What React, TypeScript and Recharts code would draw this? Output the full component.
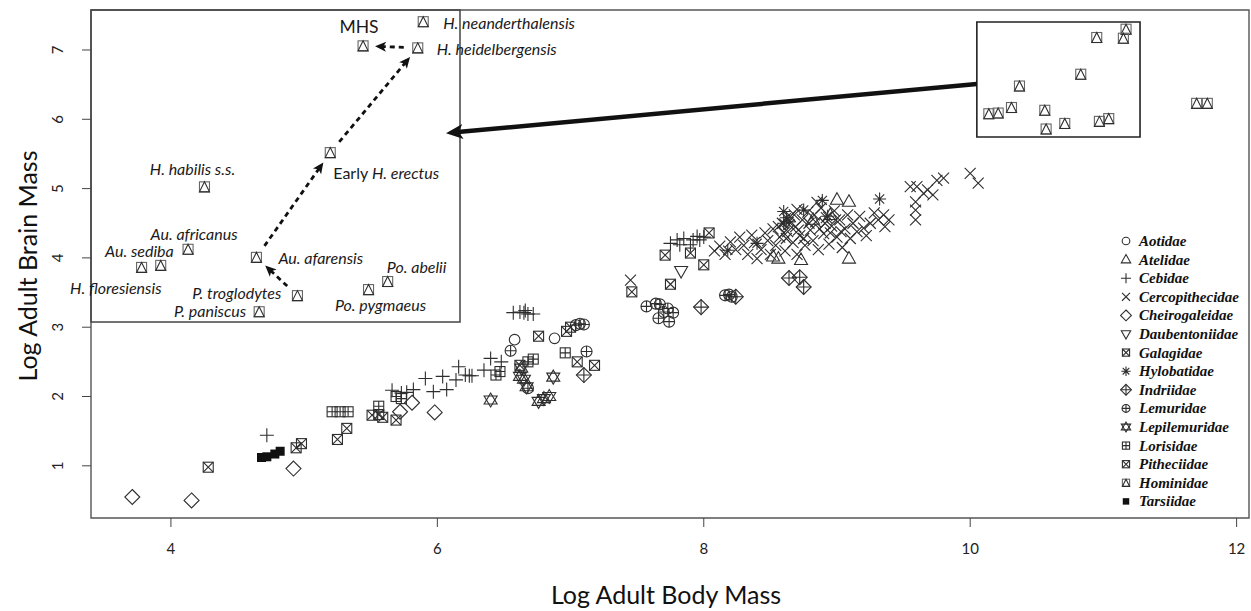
import React from 'react';
import {
  ScatterChart,
  Scatter,
  XAxis,
  YAxis,
  ReferenceArea,
  ReferenceLine,
  Legend,
} from 'recharts';

// log adult body mass (x) vs log adult brain mass (y), per family
const aotidae: [number, number][] = [[6.58, 2.82], [6.88, 2.84]];
const atelidae: [number, number][] = [
  [8.52, 4.02], [8.56, 3.99], [8.73, 3.97], [9.09, 3.99], [9.0, 4.84], [9.09, 4.81], [8.95, 4.62], [8.82, 4.55],
];
const cebidae: [number, number][] = [
  [4.72, 1.44], [5.66, 2.09], [5.73, 2.05], [5.77, 2.06], [5.82, 2.1], [5.91, 2.26], [5.97, 2.07], [6.04, 2.29],
  [6.07, 2.1], [6.14, 2.24], [6.16, 2.43], [6.21, 2.31], [6.24, 2.3], [6.26, 2.3], [6.35, 2.38], [6.4, 2.55],
  [6.48, 2.5], [6.57, 3.21], [6.62, 3.22], [6.65, 3.21], [6.68, 3.19], [6.72, 3.19], [6.66, 3.24], [7.75, 4.21],
  [7.8, 4.26], [7.85, 4.28], [7.9, 4.19], [7.92, 4.26], [7.95, 4.31], [7.97, 4.26], [7.82, 4.19], [8.0, 4.3],
];
const cercopithecidae: [number, number][] = [
  [7.45, 3.68],
  [8.08, 4.1], [8.12, 4.17], [8.16, 4.05], [8.2, 4.23], [8.24, 4.12], [8.27, 4.3], [8.3, 4.18], [8.33, 4.05],
  [8.36, 4.33], [8.38, 4.22], [8.4, 3.99], [8.43, 4.12], [8.46, 4.36], [8.48, 4.25], [8.5, 4.05], [8.52, 4.42],
  [8.54, 4.18], [8.57, 4.3], [8.59, 4.5], [8.61, 4.1], [8.63, 4.38], [8.65, 4.6], [8.67, 4.22], [8.69, 4.45],
  [8.7, 4.05], [8.72, 4.32], [8.74, 4.55], [8.76, 4.18], [8.78, 4.66], [8.8, 4.4], [8.82, 4.25], [8.84, 4.52],
  [8.86, 4.12], [8.88, 4.72], [8.9, 4.35], [8.92, 4.58], [8.94, 4.2], [8.96, 4.46], [8.98, 4.68], [9.0, 4.3],
  [9.02, 4.55], [9.04, 4.15], [9.06, 4.42], [9.08, 4.62], [9.1, 4.28], [9.12, 4.5], [9.15, 4.38], [9.17, 4.6],
  [9.2, 4.43], [9.22, 4.32], [9.25, 4.5], [9.28, 4.65], [9.31, 4.55], [9.35, 4.62], [9.36, 4.45], [9.39, 4.55],
  [8.56, 4.45], [8.6, 4.36], [8.64, 4.48], [8.68, 4.62], [8.71, 4.4], [8.75, 4.28], [8.79, 4.5], [8.83, 4.62],
  [8.87, 4.42], [8.91, 4.5], [8.95, 4.36], [8.99, 4.55], [9.03, 4.38], [8.62, 4.28], [8.7, 4.7], [8.85, 4.8],
  [9.55, 5.03], [9.6, 5.03], [9.65, 4.93], [9.72, 4.91], [9.59, 4.81], [9.59, 4.69], [9.59, 4.55], [9.75, 5.12],
  [9.8, 5.15], [10.0, 5.22], [10.06, 5.08], [9.68, 4.98],
];
const cheirogaleidae: [number, number][] = [
  [3.71, 0.55], [4.155, 0.5], [4.92, 0.96], [5.72, 1.78], [5.81, 1.91], [5.98, 1.77],
];
const daubentoniidae: [number, number][] = [[7.83, 3.81]];
const galagidae: [number, number][] = [
  [4.28, 0.98], [4.94, 1.26], [4.98, 1.32], [5.25, 1.38], [5.32, 1.54], [5.51, 1.73], [5.56, 1.74], [5.59, 1.7],
  [5.69, 1.66], [6.62, 2.45], [6.76, 2.87], [6.97, 2.94], [7.0, 3.0], [7.05, 2.5], [7.18, 2.45],
];
const hylobatidae: [number, number][] = [
  [8.18, 4.11], [8.4, 4.21], [8.6, 4.67], [8.62, 4.58], [8.64, 4.52], [8.75, 4.69], [8.89, 4.83], [8.93, 4.6],
  [9.32, 4.85], [8.6, 4.5],
];
const indriidae: [number, number][] = [
  [7.1, 2.31], [7.98, 3.29], [8.24, 3.44], [8.64, 3.71], [8.72, 3.72], [8.75, 3.58],
];
const lemuridae: [number, number][] = [
  [6.55, 2.66], [6.68, 2.12], [7.04, 3.03], [7.07, 3.05], [7.1, 3.04], [7.12, 2.65], [7.57, 3.3], [7.64, 3.34],
  [7.67, 3.33], [7.73, 3.27], [7.77, 3.21], [7.66, 3.13], [7.74, 3.08], [7.7, 3.22], [8.16, 3.46], [8.19, 3.47],
  [8.21, 3.44],
];
const lepilemuridae: [number, number][] = [
  [6.4, 1.95], [6.62, 2.29], [6.63, 2.41], [6.67, 2.14], [6.76, 1.93], [6.84, 2.0], [6.87, 2.28], [6.8, 1.97],
  [6.65, 2.25],
];
const lorisidae: [number, number][] = [
  [5.21, 1.78], [5.27, 1.78], [5.33, 1.78], [5.56, 1.86], [5.69, 2.0], [5.73, 1.97], [6.44, 2.31], [6.47, 2.36],
  [6.68, 2.5], [6.72, 2.54], [6.96, 2.63],
];
const pitheciidae: [number, number][] = [
  [7.46, 3.51], [7.71, 4.04], [7.75, 3.62], [7.9, 4.07], [8.0, 3.9], [8.04, 4.36],
];
const tarsiidae: [number, number][] = [[4.68, 1.12], [4.72, 1.13], [4.78, 1.17], [4.82, 1.21]];

// hominids: name, log body mass, log brain mass
const hominidae: [string, number, number][] = [
  ['H. neanderthalensis', 11.17, 7.3],
  ['H. heidelbergensis', 11.15, 7.17],
  ['MHS', 10.95, 7.18],
  ['Early H. erectus', 10.83, 6.65],
  ['H. habilis s.s.', 10.37, 6.48],
  ['Au. africanus', 10.31, 6.17],
  ['Au. sediba', 10.21, 6.09],
  ['H. floresiensis', 10.14, 6.08],
  ['Au. afarensis', 10.56, 6.13],
  ['P. paniscus', 10.57, 5.86],
  ['P. troglodytes', 10.71, 5.94],
  ['Po. pygmaeus', 10.97, 5.97],
  ['Po. abelii', 11.04, 6.01],
];
const gorillas: [number, number][] = [[11.7, 6.23], [11.78, 6.23]];

// lineage drawn with dashed arrows in the enlarged panel
const lineage = ['P. troglodytes', 'Au. afarensis', 'Early H. erectus', 'H. heidelbergensis', 'MHS'];

const families = [
  'Aotidae', 'Atelidae', 'Cebidae', 'Cercopithecidae', 'Cheirogaleidae', 'Daubentoniidae', 'Galagidae',
  'Hylobatidae', 'Indriidae', 'Lemuridae', 'Lepilemuridae', 'Lorisidae', 'Pitheciidae', 'Hominidae', 'Tarsiidae',
];
const xTicks = [4, 6, 8, 10, 12];
const yTicks = [1, 2, 3, 4, 5, 6, 7];

const X_DOMAIN: [number, number] = [3.4, 12.093];
const Y_DOMAIN: [number, number] = [0.247, 7.577];
// enlarged view of the hominid box, drawn on hidden axes
const ZOOM_X: [number, number] = [9.955, 14.19];
const ZOOM_Y: [number, number] = [4.836, 7.358];
const HOMINID_BOX = { x1: 10.05, x2: 11.275, y1: 5.745, y2: 7.404 };
const INSET_BOX = { x1: 3.4, x2: 6.17, y1: 3.075, y2: 7.577 };
const POINTER = [{ x: 10.05, y: 6.51 }, { x: 6.065, y: 5.8 }];

const INK = '#2e2e2e';
const SANS = 'Lato, "Open Sans", sans-serif';

const MARKERS: Record<string, string> = {
  Aotidae: 'circle', Atelidae: 'triangle', Cebidae: 'plus', Cercopithecidae: 'cross',
  Cheirogaleidae: 'diamond', Daubentoniidae: 'triangleDown', Galagidae: 'squareCross',
  Hylobatidae: 'asterisk', Indriidae: 'diamondPlus', Lemuridae: 'circlePlus', Lepilemuridae: 'star',
  Lorisidae: 'squarePlus', Pitheciidae: 'squareCross', Hominidae: 'squareTriangle', Tarsiidae: 'filledSquare',
};

const INSET_LABELS: Record<string, { dx: number; dy: number; anchor: 'start' | 'middle' | 'end' }> = {
  'H. neanderthalensis': { dx: 20, dy: 0, anchor: 'start' },
  'H. heidelbergensis': { dx: 19, dy: 0, anchor: 'start' },
  MHS: { dx: -4, dy: -20, anchor: 'middle' },
  'Early H. erectus': { dx: 3, dy: 19, anchor: 'start' },
  'H. habilis s.s.': { dx: -12, dy: -19, anchor: 'middle' },
  'Au. africanus': { dx: 6, dy: -16, anchor: 'middle' },
  'Au. sediba': { dx: 13, dy: -15, anchor: 'end' },
  'H. floresiensis': { dx: 20, dy: 20, anchor: 'end' },
  'Au. afarensis': { dx: 22, dy: 0, anchor: 'start' },
  'P. troglodytes': { dx: -16, dy: -4, anchor: 'end' },
  'P. paniscus': { dx: -13, dy: -2, anchor: 'end' },
  'Po. pygmaeus': { dx: 12, dy: 14, anchor: 'middle' },
  'Po. abelii': { dx: 29, dy: -16, anchor: 'middle' },
};

const familyData: Record<string, [number, number][]> = {
  Aotidae: aotidae, Atelidae: atelidae, Cebidae: cebidae, Cercopithecidae: cercopithecidae,
  Cheirogaleidae: cheirogaleidae, Daubentoniidae: daubentoniidae, Galagidae: galagidae,
  Hylobatidae: hylobatidae, Indriidae: indriidae, Lemuridae: lemuridae, Lepilemuridae: lepilemuridae,
  Lorisidae: lorisidae, Pitheciidae: pitheciidae,
  Hominidae: [...hominidae.map((h) => [h[1], h[2]] as [number, number]), ...gorillas],
  Tarsiidae: tarsiidae,
};

const hominidPoints = hominidae.map(([name, x, y]) => ({ name, x, y }));
const findHominid = (name: string) => hominidPoints.find((h) => h.name === name)!;

function glyph(kind: string, k = 1) {
  const s = (n: number) => n * k;
  const st = { fill: 'none', stroke: INK, strokeWidth: 1.1 };
  const sq = <rect x={s(-5)} y={s(-5)} width={s(10)} height={s(10)} {...st} />;
  switch (kind) {
    case 'circle':
      return <circle r={s(5.3)} {...st} />;
    case 'triangle':
      return <polygon points={`0,${s(-7)} ${s(6.5)},${s(4.5)} ${s(-6.5)},${s(4.5)}`} {...st} />;
    case 'triangleDown':
      return <polygon points={`0,${s(7)} ${s(6.5)},${s(-4.5)} ${s(-6.5)},${s(-4.5)}`} {...st} />;
    case 'plus':
      return <path d={`M${s(-7)},0H${s(7)}M0,${s(-7)}V${s(7)}`} {...st} />;
    case 'cross':
      return <path d={`M${s(-5.5)},${s(-5.5)}L${s(5.5)},${s(5.5)}M${s(-5.5)},${s(5.5)}L${s(5.5)},${s(-5.5)}`} {...st} />;
    case 'diamond':
      return <polygon points={`0,${s(-7.5)} ${s(7.5)},0 0,${s(7.5)} ${s(-7.5)},0`} {...st} />;
    case 'diamondPlus':
      return (
        <g>
          <polygon points={`0,${s(-7.5)} ${s(7.5)},0 0,${s(7.5)} ${s(-7.5)},0`} {...st} />
          <path d={`M${s(-7.5)},0H${s(7.5)}M0,${s(-7.5)}V${s(7.5)}`} {...st} />
        </g>
      );
    case 'squareCross':
      return (
        <g>
          {sq}
          <path d={`M${s(-5)},${s(-5)}L${s(5)},${s(5)}M${s(-5)},${s(5)}L${s(5)},${s(-5)}`} {...st} />
        </g>
      );
    case 'squarePlus':
      return (
        <g>
          {sq}
          <path d={`M${s(-5)},0H${s(5)}M0,${s(-5)}V${s(5)}`} {...st} />
        </g>
      );
    case 'squareTriangle':
      return (
        <g>
          <rect x={s(-5)} y={s(-5)} width={s(10)} height={s(10)} fill="none" stroke="#666" strokeWidth={1.1} />
          <polygon points={`0,${s(-5)} ${s(5)},${s(5)} ${s(-5)},${s(5)}`} {...st} />
        </g>
      );
    case 'asterisk':
      return (
        <path
          d={`M${s(-6.5)},0H${s(6.5)}M0,${s(-6.5)}V${s(6.5)}M${s(-4.6)},${s(-4.6)}L${s(4.6)},${s(4.6)}M${s(-4.6)},${s(4.6)}L${s(4.6)},${s(-4.6)}`}
          {...st}
        />
      );
    case 'circlePlus':
      return (
        <g>
          <circle r={s(5.5)} {...st} />
          <path d={`M${s(-5.5)},0H${s(5.5)}M0,${s(-5.5)}V${s(5.5)}`} {...st} />
        </g>
      );
    case 'star':
      return (
        <g>
          <polygon points={`0,${s(-7)} ${s(6.5)},${s(4)} ${s(-6.5)},${s(4)}`} {...st} />
          <polygon points={`0,${s(7)} ${s(6.5)},${s(-4)} ${s(-6.5)},${s(-4)}`} {...st} />
        </g>
      );
    case 'filledSquare':
      return <rect x={s(-4.5)} y={s(-4.5)} width={s(9)} height={s(9)} fill="#111" />;
    default:
      return null;
  }
}

function Marker({ kind, cx, cy, k = 1 }: { kind: string; cx: number; cy: number; k?: number }) {
  return <g transform={`translate(${cx},${cy})`}>{glyph(kind, k)}</g>;
}

function InsetPoint(p: any) {
  const name: string = p.payload?.name;
  const lab = INSET_LABELS[name];
  let content: React.ReactNode = <tspan fontStyle="italic">{name}</tspan>;
  if (name === 'MHS') content = <tspan fontSize={17.5}>{name}</tspan>;
  if (name && name.startsWith('Early ')) {
    content = (
      <>
        <tspan>Early </tspan>
        <tspan fontStyle="italic">{name.slice(6)}</tspan>
      </>
    );
  }
  return (
    <g>
      <Marker kind="squareTriangle" cx={p.cx} cy={p.cy} />
      {lab && (
        <text
          x={p.cx + lab.dx}
          y={p.cy + lab.dy}
          textAnchor={lab.anchor}
          dominantBaseline="central"
          fontFamily={SANS}
          fontSize={16}
          fill="#1a1a1a"
        >
          {content}
        </text>
      )}
    </g>
  );
}

function arrowHead(tx: number, ty: number, ux: number, uy: number, len: number, half: number) {
  const bx = tx - ux * len;
  const by = ty - uy * len;
  const nx = tx - ux * len * 0.75;
  const ny = ty - uy * len * 0.75;
  return `${tx},${ty} ${bx - uy * half},${by + ux * half} ${nx},${ny} ${bx + uy * half},${by - ux * half}`;
}

function DashedArrow(p: any) {
  const { x1, y1, x2, y2 } = p;
  const len = Math.hypot(x2 - x1, y2 - y1);
  const ux = (x2 - x1) / len;
  const uy = (y2 - y1) / len;
  const sx = x1 + ux * 14;
  const sy = y1 + uy * 14;
  const tx = x2 - ux * 12;
  const ty = y2 - uy * 12;
  return (
    <g>
      <line x1={sx} y1={sy} x2={tx - ux * 8} y2={ty - uy * 8} stroke="#111" strokeWidth={2.8} strokeDasharray="5 4" />
      <polygon points={arrowHead(tx, ty, ux, uy, 11, 5)} fill="#111" />
    </g>
  );
}

function PointerArrow(p: any) {
  const { x1, y1, x2, y2 } = p;
  const len = Math.hypot(x2 - x1, y2 - y1);
  const ux = (x2 - x1) / len;
  const uy = (y2 - y1) / len;
  return (
    <g>
      <line x1={x1} y1={y1} x2={x2 - ux * 12} y2={y2 - uy * 12} stroke="#111" strokeWidth={4.5} />
      <polygon points={arrowHead(x2, y2, ux, uy, 17, 7.5)} fill="#111" />
    </g>
  );
}

const YTick = (p: any) => (
  <text
    x={57}
    y={p.y}
    transform={`rotate(-90 57 ${p.y})`}
    textAnchor="middle"
    dominantBaseline="central"
    fontFamily={SANS}
    fontSize={15}
    fill="#222"
  >
    {p.payload.value}
  </text>
);

const XTick = (p: any) => (
  <text x={p.x} y={548} textAnchor="middle" dominantBaseline="central" fontFamily={SANS} fontSize={15} fill="#222">
    {p.payload.value}
  </text>
);

const ROW = 18.6;
const renderLegend = () => (
  <svg width={133} height={280}>
    {families.map((f, i) => (
      <g key={f}>
        <Marker kind={MARKERS[f]} cx={8} cy={9 + i * ROW} k={0.72} />
        <text
          x={21}
          y={9 + i * ROW}
          dominantBaseline="central"
          fontFamily='"Liberation Serif", "DejaVu Serif", serif'
          fontWeight="bold"
          fontStyle="italic"
          fontSize={15}
          fill="#111"
        >
          {f}
        </text>
      </g>
    ))}
  </svg>
);

export default function App() {
  return (
    <div style={{ position: 'absolute', left: 0, top: 0, width: 1251, height: 611, background: '#fff' }}>
      <ScatterChart width={1251} height={611} margin={{ top: 10, right: 2, bottom: 0, left: 0 }}>
        <XAxis
          xAxisId="main"
          type="number"
          dataKey="x"
          domain={X_DOMAIN}
          allowDataOverflow
          ticks={xTicks}
          height={93}
          axisLine={false}
          tickLine={{ stroke: '#444' }}
          tickSize={9}
          tick={<XTick />}
          label={{
            content: () => (
              <text x={666} y={594} textAnchor="middle" dominantBaseline="central" fontFamily={SANS} fontSize={25} fill="#111">
                Log Adult Body Mass
              </text>
            ),
          }}
        />
        <YAxis
          yAxisId="main"
          type="number"
          dataKey="y"
          domain={Y_DOMAIN}
          allowDataOverflow
          ticks={yTicks}
          width={91}
          axisLine={false}
          tickLine={{ stroke: '#444' }}
          tickSize={9}
          tick={<YTick />}
          label={{
            content: () => (
              <text
                x={27}
                y={266}
                transform="rotate(-90 27 266)"
                textAnchor="middle"
                dominantBaseline="central"
                fontFamily={SANS}
                fontSize={25}
                fill="#111"
              >
                Log Adult Brain Mass
              </text>
            ),
          }}
        />
        <XAxis xAxisId="zoom" type="number" dataKey="x" domain={ZOOM_X} hide />
        <YAxis yAxisId="zoom" type="number" dataKey="y" domain={ZOOM_Y} hide />

        <ReferenceArea
          xAxisId="main"
          yAxisId="main"
          x1={X_DOMAIN[0]}
          x2={X_DOMAIN[1]}
          y1={Y_DOMAIN[0]}
          y2={Y_DOMAIN[1]}
          fill="none"
          stroke="#555"
          strokeWidth={1.4}
          ifOverflow="visible"
        />
        <ReferenceArea
          xAxisId="main"
          yAxisId="main"
          {...INSET_BOX}
          fill="none"
          stroke="#444"
          strokeWidth={1.5}
          ifOverflow="visible"
        />
        <ReferenceArea
          xAxisId="main"
          yAxisId="main"
          {...HOMINID_BOX}
          fill="none"
          stroke="#222"
          strokeWidth={1.6}
          ifOverflow="visible"
        />
        <ReferenceLine xAxisId="main" yAxisId="main" segment={POINTER} shape={PointerArrow} ifOverflow="visible" />

        {families.map((f) => (
          <Scatter
            key={f}
            name={f}
            xAxisId="main"
            yAxisId="main"
            data={familyData[f].map(([x, y]) => ({ x, y }))}
            isAnimationActive={false}
            shape={(p: any) => <Marker kind={MARKERS[f]} cx={p.cx} cy={p.cy} />}
          />
        ))}

        <Scatter
          name="inset"
          xAxisId="zoom"
          yAxisId="zoom"
          data={hominidPoints}
          isAnimationActive={false}
          legendType="none"
          shape={InsetPoint}
        />
        {lineage.slice(1).map((to, i) => {
          const a = findHominid(lineage[i]);
          const b = findHominid(to);
          return (
            <ReferenceLine
              key={to}
              xAxisId="zoom"
              yAxisId="zoom"
              segment={[{ x: a.x, y: a.y }, { x: b.x, y: b.y }]}
              shape={DashedArrow}
              ifOverflow="visible"
            />
          );
        })}

        <Legend
          layout="vertical"
          align="center"
          verticalAlign="middle"
          content={renderLegend}
          wrapperStyle={{ position: 'absolute', left: 1118, top: 232, width: 133, height: 280 }}
        />
      </ScatterChart>
    </div>
  );
}
